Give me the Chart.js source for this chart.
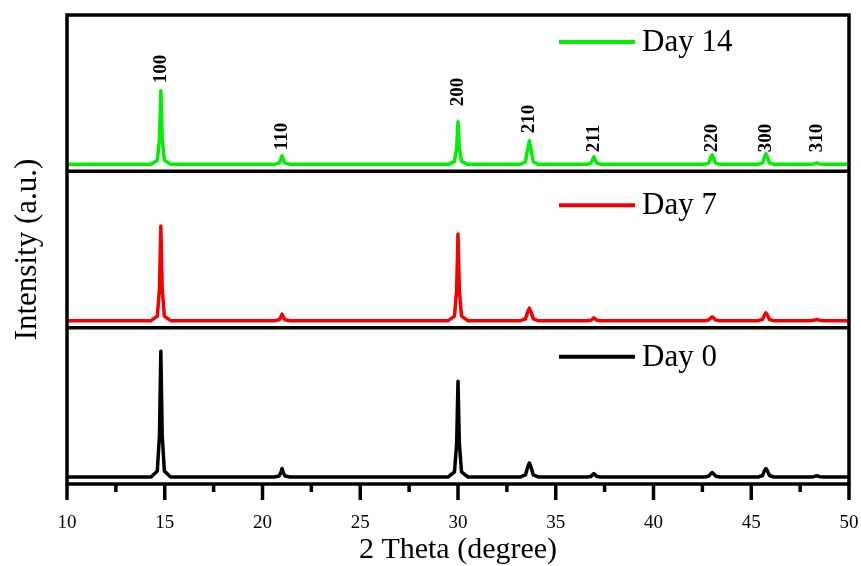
<!DOCTYPE html>
<html lang="en">
<head>
    <meta charset="UTF-8">
    <script src="https://cdn.jsdelivr.net/npm/chart.js"></script>
    <title>XRD patterns</title>
    <style>
        html, body {
            margin: 0;
            padding: 0;
            background: #fff;
        }
        canvas {
            display: block;
        }
    </style>
</head>
<body>
    <canvas id="xrdChart" width="861" height="566"></canvas>
    <script>
        // 2 theta sample points (degree), same for every pattern
        const twoTheta = [
            10,
            14.3, 14.62, 14.73, 14.8, 14.87, 14.98, 15.3,
            20.6, 20.85, 20.94, 21.0, 21.06, 21.15, 21.4,
            29.5, 29.82, 29.93, 30.0, 30.07, 30.18, 30.5,
            33.2, 33.45, 33.56, 33.65, 33.74, 33.85, 34.1,
            36.6, 36.8, 36.89, 36.95, 37.01, 37.1, 37.3,
            42.6, 42.82, 42.92, 43.0, 43.08, 43.18, 43.4,
            45.35, 45.58, 45.67, 45.75, 45.83, 45.93, 46.15,
            48.0, 48.2, 48.28, 48.35, 48.42, 48.5, 48.7,
            50
        ];

        // intensities (a.u.), baseline at 0
        const day0 = [
            0,
            0, 60, 420, 1255, 420, 60, 0,
            0, 10, 45, 85, 45, 10, 0,
            0, 50, 330, 955, 330, 50, 0,
            0, 20, 95, 140, 95, 20, 0,
            0, 5, 25, 35, 25, 5, 0,
            0, 8, 30, 45, 30, 8, 0,
            0, 15, 60, 85, 60, 15, 0,
            0, 3, 8, 12, 8, 3, 0,
            0
        ];
        const day7 = [
            0,
            0, 45, 320, 945, 320, 45, 0,
            0, 8, 40, 65, 40, 8, 0,
            0, 45, 300, 865, 300, 45, 0,
            0, 18, 85, 125, 85, 18, 0,
            0, 4, 18, 28, 18, 4, 0,
            0, 6, 25, 38, 25, 6, 0,
            0, 12, 55, 78, 55, 12, 0,
            0, 3, 8, 12, 8, 3, 0,
            0
        ];
        const day14 = [
            0,
            0, 40, 250, 735, 250, 40, 0,
            0, 12, 50, 85, 50, 12, 0,
            0, 30, 160, 425, 160, 30, 0,
            0, 25, 145, 235, 145, 25, 0,
            0, 10, 48, 75, 48, 10, 0,
            0, 12, 60, 95, 60, 12, 0,
            0, 15, 70, 105, 70, 15, 0,
            0, 3, 10, 15, 10, 3, 0,
            0
        ];

        // Miller indices marked over the Day 14 pattern
        const hklLabels = ['100', '110', '200', '210', '211', '220', '300', '310'];
        const hklTheta = [14.8, 21.0, 30.0, 33.65, 36.95, 43.0, 45.75, 48.35];
        const hklLevel = [810, 140, 580, 310, 120, 120, 120, 120];

        const xTicks = [10, 15, 20, 25, 30, 35, 40, 45, 50];

        const serif = '"Liberation Serif", "Times New Roman", serif';

        function toPoints(values) {
            return twoTheta.map((t, i) => ({ x: t, y: values[i] }));
        }

        // frame, panel separators, ticks, per panel legends and hkl labels
        const xrdDecor = {
            id: 'xrdDecor',
            afterDatasetsDraw(chart) {
                const { ctx, chartArea: a, scales } = chart;
                const x = scales.x;
                ctx.save();
                ctx.strokeStyle = '#000';
                ctx.lineWidth = 3.5;
                ctx.strokeRect(a.left, a.top, a.right - a.left, a.bottom - a.top);

                ['yMid', 'yBot'].forEach(id => {
                    const y = scales[id].top;
                    ctx.beginPath();
                    ctx.moveTo(a.left, y);
                    ctx.lineTo(a.right, y);
                    ctx.stroke();
                });

                x.ticks.forEach(t => {
                    const px = x.getPixelForValue(t.value);
                    const len = t.value % 5 === 0 ? 16 : 8;
                    ctx.beginPath();
                    ctx.moveTo(px, a.bottom);
                    ctx.lineTo(px, a.bottom + len);
                    ctx.stroke();
                });

                // legend item inside each panel
                const legendDy = [27, 34, 29];
                chart.data.datasets.forEach((ds, i) => {
                    const y = scales[ds.yAxisID].top + legendDy[i];
                    const x0 = a.left + 492;
                    ctx.strokeStyle = ds.borderColor;
                    ctx.lineWidth = 4;
                    ctx.beginPath();
                    ctx.moveTo(x0, y);
                    ctx.lineTo(x0 + 76, y);
                    ctx.stroke();
                    ctx.fillStyle = '#000';
                    ctx.font = '31px ' + serif;
                    ctx.textAlign = 'left';
                    ctx.textBaseline = 'middle';
                    ctx.fillText(ds.label, x0 + 83, y + 1);
                });

                // hkl labels, rotated
                const yTop = scales.yTop;
                ctx.font = 'bold 19px ' + serif;
                ctx.fillStyle = '#000';
                hklLabels.forEach((lab, i) => {
                    ctx.save();
                    ctx.translate(x.getPixelForValue(hklTheta[i]), yTop.getPixelForValue(hklLevel[i]));
                    ctx.rotate(-Math.PI / 2);
                    ctx.textAlign = 'left';
                    ctx.textBaseline = 'middle';
                    ctx.fillText(lab, 0, 0);
                    ctx.restore();
                });
                ctx.restore();
            }
        };

        function panelAxis(weight, title) {
            return {
                type: 'linear',
                position: 'left',
                stack: 'xrd',
                stackWeight: 1,
                weight: weight,
                min: -70,
                max: 1490,
                grid: { display: false, drawTicks: false },
                border: { display: false },
                ticks: { display: false },
                title: {
                    display: !!title,
                    text: title || '',
                    color: '#000',
                    font: { family: serif, size: 31, lineHeight: 1 },
                    padding: { top: 6, bottom: 24 }
                }
            };
        }

        const ctx = document.getElementById('xrdChart').getContext('2d');

        const data = {
            datasets: [
                { label: 'Day 14', data: toPoints(day14), yAxisID: 'yTop', borderColor: 'rgb(0, 240, 0)' },
                { label: 'Day 7', data: toPoints(day7), yAxisID: 'yMid', borderColor: 'rgb(245, 0, 0)' },
                { label: 'Day 0', data: toPoints(day0), yAxisID: 'yBot', borderColor: '#000' }
            ].map(ds => Object.assign(ds, {
                borderWidth: 3.5,
                pointRadius: 0,
                tension: 0,
                fill: false,
                borderJoinStyle: 'round'
            }))
        };

        const myChart = new Chart(ctx, {
            type: 'line',
            data: data,
            options: {
                responsive: false,
                animation: false,
                layout: { padding: { left: 6, right: 12, top: 15, bottom: 1 } },
                plugins: {
                    legend: { display: false },
                    tooltip: { enabled: false }
                },
                scales: {
                    x: {
                        type: 'linear',
                        min: 10,
                        max: 50,
                        // tick marks are drawn by xrdDecor, the length here only reserves room
                        grid: { display: false, drawTicks: true, tickLength: 30 },
                        border: { display: false },
                        afterBuildTicks: axis => {
                            const t = [];
                            for (let v = 10; v <= 50; v += 2.5) t.push({ value: v });
                            axis.ticks = t;
                        },
                        ticks: {
                            padding: 0,
                            color: '#000',
                            maxRotation: 0,
                            autoSkip: false,
                            font: { family: serif, size: 19, lineHeight: 1 },
                            callback: v => xTicks.includes(v) ? String(v) : ''
                        },
                        title: {
                            display: true,
                            text: '2 Theta (degree)',
                            color: '#000',
                            font: { family: serif, size: 30, lineHeight: 1 },
                            padding: { top: 2, bottom: 0 }
                        }
                    },
                    yTop: panelAxis(3),
                    yMid: panelAxis(2, 'Intensity (a.u.)'),
                    yBot: panelAxis(1)
                }
            },
            plugins: [xrdDecor]
        });
    </script>
</body>
</html>
